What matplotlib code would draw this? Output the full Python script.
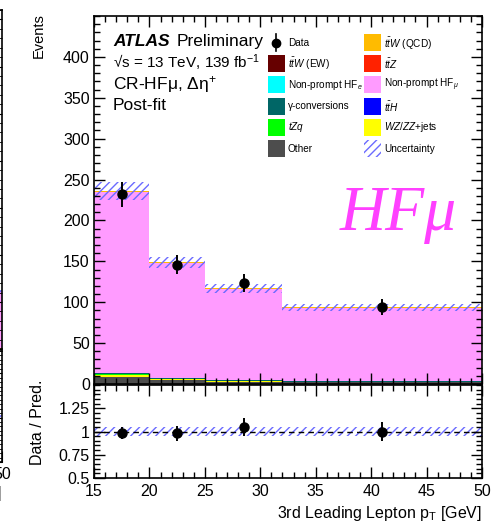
import numpy as np
import matplotlib
matplotlib.use("Agg")
import matplotlib.pyplot as plt
from matplotlib.patches import Rectangle
from matplotlib.ticker import MultipleLocator

plt.rcParams["font.family"] = ["Liberation Sans", "DejaVu Sans"]
plt.rcParams["mathtext.fontset"] = "custom"
plt.rcParams["mathtext.rm"] = "Liberation Sans"
plt.rcParams["mathtext.it"] = "Liberation Sans:italic"
plt.rcParams["mathtext.bf"] = "Liberation Sans:bold"
plt.rcParams["hatch.linewidth"] = 1.0

# binning (3rd leading lepton pT, GeV)
bin_edges = [15, 20, 25, 32, 50]

# stacked backgrounds, bottom to top
other = [8.0, 4.5, 3.0, 2.0]
wz_zz = [3.5, 1.5, 0.8, 0.6]
tzq = [0.3, 0.2, 0.2, 0.2]
gamma_conv = [1.5, 1.0, 0.8, 1.0]
hf_e = [0.5, 0.3, 0.3, 0.4]
hf_mu = [220.5, 140.0, 111.0, 88.5]
tth = [0.2, 0.2, 0.1, 0.2]
ttz = [0.4, 0.3, 0.3, 0.4]
ttw_ew = [0.1, 0.1, 0.1, 0.1]
ttw_qcd = [0.8, 0.6, 0.5, 0.6]

data = [232, 146, 123, 94]
data_err = [15.2, 12.1, 11.1, 9.7]
unc_frac = [0.045, 0.045, 0.045, 0.045]

# neighbouring panel (only its right edge is visible)
left_pink = [60]
left_yellow = [1.5]

stack = [
    (other, "#4d4d4d"),
    (wz_zz, "#ffff00"),
    (tzq, "#00ff00"),
    (gamma_conv, "#006666"),
    (hf_e, "#00ffff"),
    (hf_mu, "#ff9bff"),
    (tth, "#0000ff"),
    (ttz, "#ff2200"),
    (ttw_ew, "#660000"),
    (ttw_qcd, "#ffbb00"),
]

edges = np.array(bin_edges, dtype=float)
widths = np.diff(edges)
centers = np.array([17.5, 22.5, 28.5, 41.0])

hatch_col = "#6b6bff"

fig = plt.figure(figsize=(4.92, 5.24), dpi=100)
ax = fig.add_axes([94 / 492, 140 / 524, 388 / 492, 368 / 524])
axr = fig.add_axes([94 / 492, 46 / 524, 388 / 492, 93 / 524], sharex=ax)

bottom = np.zeros(4)
for vals, col in stack:
    v = np.array(vals)
    ax.bar(edges[:-1], v, width=widths, bottom=bottom, align="edge",
           color=col, linewidth=0)
    bottom += v
total = bottom

unc = total * np.array(unc_frac)
ax.bar(edges[:-1], 2 * unc, width=widths, bottom=total - unc, align="edge",
       facecolor="none", edgecolor=hatch_col, hatch="////", linewidth=0)
ax.errorbar(centers, data, yerr=data_err, fmt="o", color="black",
            markersize=6.5, elinewidth=1.4, capsize=0)

ax.set_xlim(15, 50)
ax.set_ylim(0, 450)
ax.yaxis.set_minor_locator(MultipleLocator(10))
ax.xaxis.set_major_locator(MultipleLocator(5))
ax.xaxis.set_minor_locator(MultipleLocator(1))
ax.set_yticks([0, 50, 100, 150, 200, 250, 300, 350, 400])
plt.setp(ax.get_xticklabels(), visible=False)
ax.set_ylabel("Events", fontsize=10.5, loc="top")
ax.yaxis.set_label_coords(-0.124, 1.008)

# ratio panel
ratio = np.array(data) / total
ratio_err = np.array(data_err) / total
axr.bar(edges[:-1], 2 * np.array(unc_frac), width=widths,
        bottom=1 - np.array(unc_frac), align="edge", facecolor="none",
        edgecolor=hatch_col, hatch="////", linewidth=0)
axr.axhline(1.0, color="black", linestyle="--", linewidth=1.0, dashes=(4, 3))
axr.errorbar(centers, ratio, yerr=ratio_err, fmt="o", color="black",
             markersize=6.5, elinewidth=1.4, capsize=0)
axr.set_ylim(0.5, 1.5)
axr.set_yticks([0.5, 0.75, 1.0, 1.25])
axr.set_yticklabels(["0.5", "0.75", "1", "1.25"])
axr.yaxis.set_minor_locator(MultipleLocator(0.05))
axr.set_ylabel("Data / Pred.", fontsize=11.5)
axr.yaxis.set_label_coords(-0.126, 0.6)
axr.set_xlabel(r"3rd Leading Lepton p$_{\mathrm{T}}$ [GeV]", fontsize=11.5, ha="right")
axr.xaxis.set_label_coords(1.0, -0.28)

for a in (ax, axr):
    a.tick_params(which="both", direction="in", top=True, right=True,
                  labelsize=11.5, width=1.0)
    a.tick_params(which="major", length=8)
    a.tick_params(which="minor", length=4.5)
    a.tick_params(axis="y", pad=3)
    a.tick_params(axis="x", pad=4)
    for s in a.spines.values():
        s.set_linewidth(1.2)

# labels
ax.text(0.049, 0.93, "ATLAS", transform=ax.transAxes, fontsize=12.5,
        fontweight="bold", style="italic", va="center")
ax.text(0.212, 0.93, "Preliminary", transform=ax.transAxes, fontsize=12.5,
        va="center")
ax.text(0.049, 0.872, "\u221as = 13 TeV, 139 fb$^{-1}$", transform=ax.transAxes,
        fontsize=11.0, va="center")
ax.text(0.049, 0.815, r"CR-HF$\mathrm{\mu}$, $\mathrm{\Delta\eta}^{+}$", transform=ax.transAxes,
        fontsize=12.5, va="center")
ax.text(0.049, 0.756, "Post-fit", transform=ax.transAxes, fontsize=12.5,
        va="center")
ax.text(0.634, 0.418, "HFμ", transform=ax.transAxes, fontsize=46,
        family="Liberation Serif", style="italic", color="#ff40ff",
        va="baseline")

# legend
bw, bh = 17 / 388, 17 / 368
rows = [0.9274, 0.8715, 0.8133, 0.7554, 0.6975, 0.6386]
col_box = [0.448, 0.696]
col_txt = [0.50, 0.747]
entries = [
    (0, 0, "data", "Data"),
    (0, 1, "#660000", r"$t\bar{t}W$ (EW)"),
    (0, 2, "#00ffff", r"Non-prompt HF$_{e}$"),
    (0, 3, "#006666", "γ-conversions"),
    (0, 4, "#00ff00", r"$tZq$"),
    (0, 5, "#4d4d4d", "Other"),
    (1, 0, "#ffbb00", r"$t\bar{t}W$ (QCD)"),
    (1, 1, "#ff2200", r"$t\bar{t}Z$"),
    (1, 2, "#ff9bff", r"Non-prompt HF$_{\mu}$"),
    (1, 3, "#0000ff", r"$t\bar{t}H$"),
    (1, 4, "#ffff00", r"$WZ/ZZ$+jets"),
    (1, 5, "unc", "Uncertainty"),
]
for c, r, style, label in entries:
    x0, y = col_box[c], rows[r]
    if style == "data":
        ax.plot([x0 + bw / 2], [y], "o", color="black", markersize=6,
                transform=ax.transAxes)
        ax.plot([x0 + bw / 2] * 2, [y - bh / 2, y + bh / 2], color="black",
                linewidth=1.2, transform=ax.transAxes)
    elif style == "unc":
        ax.add_patch(Rectangle((x0, y - bh / 2), bw, bh, transform=ax.transAxes,
                               facecolor="none", edgecolor=hatch_col,
                               hatch="////", linewidth=0))
    else:
        ax.add_patch(Rectangle((x0, y - bh / 2), bw, bh, transform=ax.transAxes,
                               facecolor=style, edgecolor="none"))
    ax.text(col_txt[c], y, label, transform=ax.transAxes, fontsize=7.2,
            va="center")

# right edge of the neighbouring panel at the left border
axl = fig.add_axes([-0.3, 175 / 524, 0.3 + 2 / 492, 339 / 524])
axl.bar([0], left_yellow, width=2, color="#ffff00", linewidth=0)
axl.bar([0], left_pink, width=2, bottom=left_yellow, color="#ff9bff", linewidth=0)
axl.bar([0], [6], width=2, bottom=[left_pink[0] - 3], facecolor="none",
        edgecolor=hatch_col, hatch="////", linewidth=0)
axl.set_xlim(-1, 1)
axl.set_ylim(0, 360)
axl.yaxis.set_minor_locator(MultipleLocator(10))
axl.yaxis.set_major_locator(MultipleLocator(50))
axl.tick_params(which="both", direction="in", right=True, labelleft=False,
                labelbottom=False, bottom=False)
axl.tick_params(which="major", length=8)
axl.tick_params(which="minor", length=4.5)

axlr = fig.add_axes([-0.3, 62 / 524, 0.3 + 2 / 492, 111 / 524])
axlr.bar([32], [0.1], width=36, bottom=[0.95], facecolor="none",
         edgecolor=hatch_col, hatch="////", linewidth=0)
axlr.set_xlim(15, 50)
axlr.set_ylim(0, 2.5)
axlr.set_xticks([50])
axlr.yaxis.set_minor_locator(MultipleLocator(0.1))
axlr.tick_params(which="both", direction="in", right=True, labelleft=False,
                 labelsize=11.5)
axlr.tick_params(which="major", length=8)
axlr.tick_params(which="minor", length=4.5)
axlr.set_xlabel(r"3rd Leading Lepton p$_{\mathrm{T}}$ [GeV]", fontsize=11.5, ha="right")
axlr.xaxis.set_label_coords(1.0, -0.2)
for a in (axl, axlr):
    for s in a.spines.values():
        s.set_linewidth(1.2)

fig.savefig("out.png", dpi=100)
